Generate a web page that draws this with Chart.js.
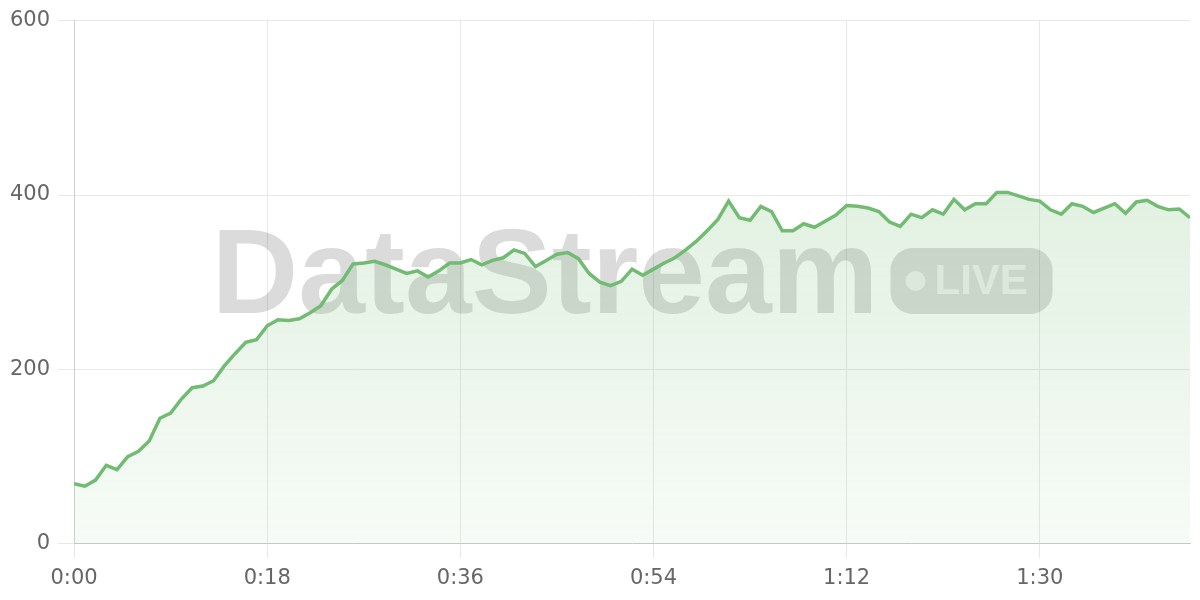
<!DOCTYPE html>
<html lang="en">

<head>
    <meta charset="UTF-8">
    <meta name="viewport" content="width=device-width, initial-scale=1.0">
    <title>DataStream Live</title>
    <style>
        html, body {
            margin: 0;
            padding: 0;
            background-color: #fff;
        }

        .chart-container {
            position: relative;
            width: 1200px;
            height: 600px;
        }
    </style>
</head>

<body>
    <div class="chart-container">
        <canvas id="live-chart"></canvas>
    </div>
    <script src="https://cdn.jsdelivr.net/npm/chart.js"></script>
    <script>
    // one sample per second
    const values = [
        69, 66, 73, 90, 85, 100, 106, 118, 144, 150,
        166, 179, 181, 187, 204, 218, 231, 234, 250, 257,
        256, 258, 265, 273, 292, 302, 321, 322, 324, 320,
        315, 310, 313, 306, 313, 322, 322, 326, 320, 325,
        328, 337, 333, 318, 325, 332, 334, 327, 310, 300,
        296, 301, 315, 308, 315, 322, 328, 337, 347, 359,
        372, 393, 374, 371, 387, 381, 359, 359, 367, 363,
        370, 377, 388, 387, 385, 381, 369, 364, 378, 374,
        383, 378, 395, 383, 390, 390, 403, 403, 399, 395,
        393, 383, 378, 390, 387, 380, 385, 390, 379, 392,
        394, 387, 383, 384, 374
    ];
    const elapsedSeconds = values.map((_, i) => i);
    const xTickSeconds = [0, 18, 36, 54, 72, 90];
    const yTicks = [0, 200, 400, 600];

    const watermarkTitle = 'DataStream';
    const watermarkBadge = 'LIVE';

    const tickFont = { size: 21, family: '"DejaVu Sans", Verdana, sans-serif' };

    function formatTime(sec) {
        const m = Math.floor(sec / 60);
        const s = sec % 60;
        return m + ':' + String(s).padStart(2, '0');
    }

    const watermark = {
        id: 'watermark',
        beforeDatasetsDraw(chart) {
            const { ctx, chartArea } = chart;
            const cx = (chartArea.left + chartArea.right) / 2;
            const cy = 281;
            ctx.save();
            ctx.font = 'bold 120px "Liberation Sans", Arial, sans-serif';
            const textW = ctx.measureText(watermarkTitle).width;
            const pillW = 162, pillH = 66, gap = 12;
            const total = textW + gap + pillW;
            const x0 = cx - total / 2;
            ctx.fillStyle = 'rgba(0, 0, 0, 0.14)';
            ctx.textBaseline = 'alphabetic';
            ctx.fillText(watermarkTitle, x0, 313);

            const px = x0 + textW + gap;
            const py = cy - pillH / 2;
            ctx.beginPath();
            ctx.roundRect(px, py, pillW, pillH, 22);
            ctx.fill();

            ctx.fillStyle = 'rgba(255, 255, 255, 0.6)';
            ctx.beginPath();
            ctx.arc(px + 25, cy, 10, 0, Math.PI * 2);
            ctx.fill();
            ctx.font = 'bold 42px "Liberation Sans", Arial, sans-serif';
            ctx.textBaseline = 'middle';
            ctx.fillText(watermarkBadge, px + 44, cy + 1);
            ctx.restore();
        }
    };

    const ctx = document.getElementById('live-chart').getContext('2d');

    new Chart(ctx, {
        type: 'line',
        data: {
            datasets: [{
                label: 'DataStream',
                data: elapsedSeconds.map((t, i) => ({ x: t, y: values[i] })),
                borderColor: '#72bb72',
                borderWidth: 3.5,
                pointRadius: 0,
                tension: 0,
                fill: 'origin',
                backgroundColor: (context) => {
                    const area = context.chart.chartArea;
                    if (!area) return 'rgba(114, 187, 114, 0.15)';
                    const g = context.chart.ctx.createLinearGradient(0, area.top, 0, area.bottom);
                    g.addColorStop(0, 'rgba(114, 187, 114, 0.28)');
                    g.addColorStop(1, 'rgba(114, 187, 114, 0.06)');
                    return g;
                }
            }]
        },
        options: {
            responsive: true,
            maintainAspectRatio: false,
            animation: false,
            layout: {
                padding: { top: 8, right: 10, left: 2, bottom: 1 }
            },
            plugins: {
                legend: { display: false },
                tooltip: { enabled: false }
            },
            scales: {
                x: {
                    type: 'linear',
                    min: 0,
                    max: values.length - 1,
                    afterBuildTicks: (axis) => {
                        axis.ticks = xTickSeconds.map(v => ({ value: v }));
                    },
                    ticks: {
                        callback: (v) => formatTime(v),
                        color: '#666',
                        font: tickFont,
                        maxRotation: 0,
                        padding: 8
                    },
                    grid: {
                        color: '#e8e8e8',
                        tickLength: 14
                    },
                    border: { color: '#c8c8c8' }
                },
                y: {
                    min: 0,
                    max: 600,
                    afterBuildTicks: (axis) => {
                        axis.ticks = yTicks.map(v => ({ value: v }));
                    },
                    ticks: {
                        color: '#666',
                        font: tickFont,
                        padding: 8
                    },
                    grid: {
                        color: '#e8e8e8',
                        tickLength: 16
                    },
                    border: { color: '#cfcfcf' }
                }
            }
        },
        plugins: [watermark]
    });
    </script>
</body>

</html>
